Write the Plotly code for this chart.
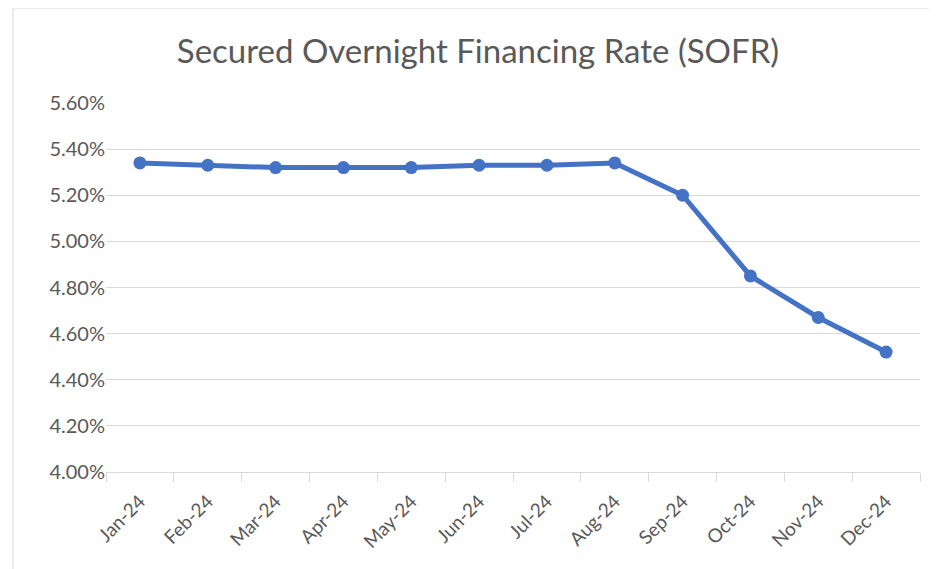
import plotly.graph_objects as go

months = ["Jan-24", "Feb-24", "Mar-24", "Apr-24", "May-24", "Jun-24",
          "Jul-24", "Aug-24", "Sep-24", "Oct-24", "Nov-24", "Dec-24"]
sofr = [5.34, 5.33, 5.32, 5.32, 5.32, 5.33, 5.33, 5.34, 5.20, 4.85, 4.67, 4.52]
y_ticks = [4.0, 4.2, 4.4, 4.6, 4.8, 5.0, 5.2, 5.4, 5.6]
title_text = "Secured Overnight Financing Rate (SOFR)"

OFF = 8  # default page body margin
W, H = 937 - OFF, 569 - OFF
ml, mr, mt, mb = 106 - OFF, 17, 103 - OFF, 97
pw = W - ml - mr
ph = H - mt - mb

fig = go.Figure()
fig.add_trace(go.Scatter(
    x=months, y=sofr, mode="lines+markers",
    line=dict(color="#4472C4", width=5),
    marker=dict(color="#4472C4", size=13),
    hoverinfo="skip", showlegend=False,
))

font_family = "Lato, Open Sans, sans-serif"
fig.update_layout(
    width=W, height=H,
    margin=dict(l=ml, r=mr, t=mt, b=mb),
    paper_bgcolor="white", plot_bgcolor="white",
    title=dict(text=title_text, x=(478 - OFF) / W, xref="container", xanchor="center",
               y=1 - (51 - OFF) / H, yref="container", yanchor="middle",
               font=dict(family=font_family, size=33, color="#595959")),
    font=dict(family=font_family, color="#595959", size=19),
    xaxis=dict(
        type="category", tickangle=-45, showgrid=False,
        showline=True, linecolor="#d9d9d9", linewidth=1,
        ticks="outside", tickson="boundaries", ticklen=9, tickcolor="#d9d9d9",
        tickfont=dict(size=19, color="#595959"), ticklabelstandoff=10,
        range=[-0.5, len(months) - 0.5],
    ),
    yaxis=dict(
        range=[4.0, 5.6], tickvals=y_ticks,
        ticktext=[f"{v:.2f}%" for v in y_ticks],
        showgrid=True, gridcolor="#d9d9d9", gridwidth=1,
        zeroline=False, showline=False, ticks="", ticklen=0,
        tickfont=dict(size=20, color="#595959"),
    ),
    shapes=[dict(
        type="rect", xref="paper", yref="paper",
        x0=(13 - 106) / pw, x1=(W + OFF + 10 - 106) / pw,
        y0=-(H + OFF + 10 - 103 - ph) / ph, y1=1 + (103 - 8) / ph,
        line=dict(color="#d9d9d9", width=1), fillcolor="rgba(0,0,0,0)",
        layer="below",
    )],
)

fig.write_html("out.html")
